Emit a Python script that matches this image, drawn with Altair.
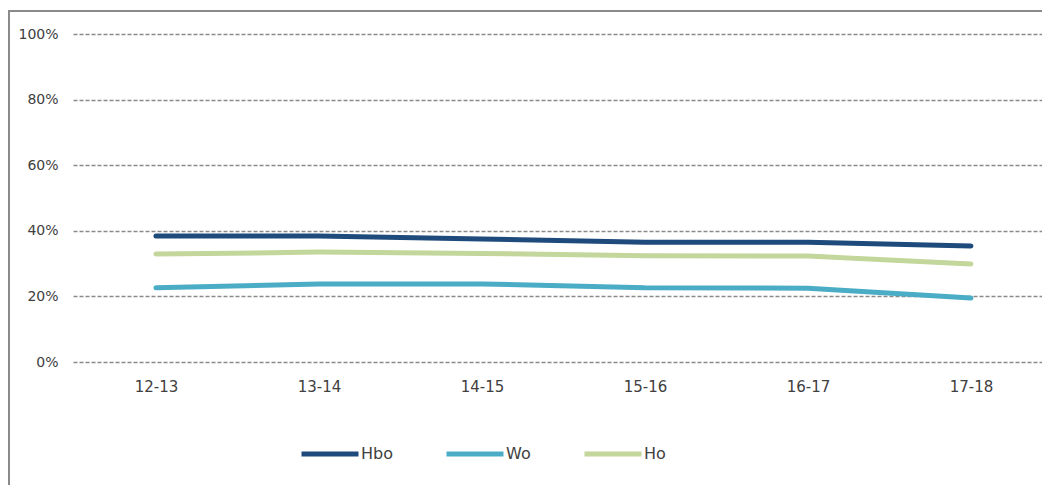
import altair as alt
import pandas as pd
import json

years = ["12-13", "13-14", "14-15", "15-16", "16-17", "17-18"]
series = ["Hbo", "Wo", "Ho"]
hbo = [0.384, 0.384, 0.375, 0.365, 0.365, 0.354]
wo = [0.226, 0.238, 0.238, 0.226, 0.225, 0.195]
ho = [0.329, 0.335, 0.331, 0.324, 0.323, 0.299]
colors = ["#1F4A7C", "#4BACC6", "#C3D69B"]

rows = []
for name, vals in zip(series, [hbo, wo, ho]):
    for i, (y, v) in enumerate(zip(years, vals)):
        rows.append({"idx": i, "jaar": y, "serie": name, "waarde": v})
df = pd.DataFrame(rows)

FONT = "DejaVu Sans"
label_expr = json.dumps(years) + "[datum.value]"

lines = alt.Chart(df).mark_line(strokeWidth=5, strokeCap="round", strokeJoin="round").encode(
    x=alt.X("idx:Q",
            scale=alt.Scale(domain=[-0.509, 5.436], nice=False, zero=False),
            axis=alt.Axis(title=None, values=list(range(len(years))), labelExpr=label_expr,
                          labelAngle=0, ticks=False, domain=False,
                          labelPadding=17, labelFontSize=15, labelFont=FONT,
                          labelColor="#404040", grid=False)),
    y=alt.Y("waarde:Q",
            scale=alt.Scale(domain=[0, 1], nice=False),
            axis=alt.Axis(title=None, format=".0%", values=[0, 0.2, 0.4, 0.6, 0.8, 1.0],
                          ticks=False, domain=False, labelPadding=15, labelFontSize=14,
                          labelFont=FONT, labelColor="#404040",
                          grid=True, gridColor="#8a8a8a", gridDash=[4, 2], gridWidth=1.4)),
    color=alt.Color("serie:N", sort=series,
                    scale=alt.Scale(domain=series, range=colors),
                    legend=alt.Legend(title=None, orient="none", direction="horizontal",
                                      legendX=226, legendY=389,
                                      symbolType="stroke", symbolSize=3249,
                                      symbolStrokeWidth=5, labelFontSize=16,
                                      labelFont=FONT, labelColor="#404040",
                                      labelOffset=0, columnPadding=43)),
)

frame_df = pd.DataFrame({"k": [0]})
top_a = alt.Chart(frame_df).mark_rule(color="#8a8a8a", strokeWidth=2).encode(
    x=alt.value(-64), x2=alt.value(460), y=alt.value(-23), y2=alt.value(-23))
top_b = alt.Chart(frame_df).mark_rule(color="#8a8a8a", strokeWidth=2).encode(
    x=alt.value(459), x2=alt.value(985), y=alt.value(-23), y2=alt.value(-23))
left_line = alt.Chart(frame_df).mark_rule(color="#8a8a8a", strokeWidth=2).encode(
    x=alt.value(-64), x2=alt.value(-64), y=alt.value(-24), y2=alt.value(600))

chart = alt.layer(top_a, top_b, left_line, lines).properties(
    width=969, height=328,
    autosize=alt.AutoSizeParams(type="none"),
    padding={"left": 65, "top": 26, "right": 0, "bottom": 123},
).configure_view(stroke=None)

chart.save("out.html", embed_options={"renderer": "svg", "actions": False})
